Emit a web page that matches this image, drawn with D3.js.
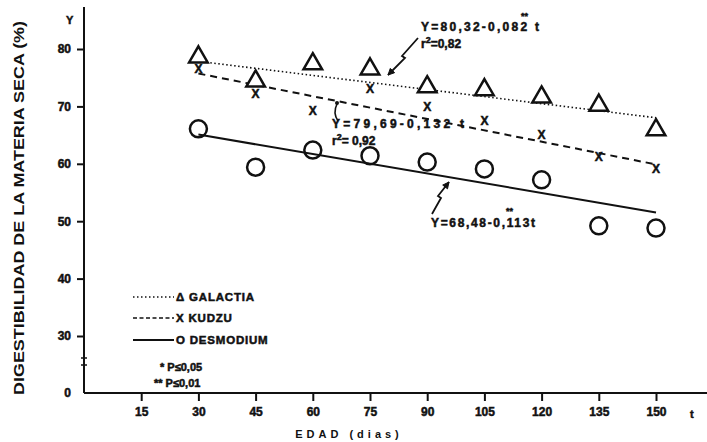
<!DOCTYPE html>
<html>
<head>
<meta charset="utf-8">
<script src="https://cdn.jsdelivr.net/npm/d3@7"></script>
<style>
  body { margin: 0; background: #fff; }
  svg text { font-family: "Liberation Sans", Arial, sans-serif; font-weight: bold; fill: #111; }
  svg text.heavy { stroke: #111; stroke-width: 0.5px; }
</style>
</head>
<body>
<svg id="chart"></svg>
<script>
const days = [30, 45, 60, 75, 90, 105, 120, 135, 150];
const galactia = [78.6, 74.4, 77.4, 76.5, 73.4, 72.9, 71.6, 70.2, 65.9];
const kudzu = [76.7, 72.3, 69.4, 73.2, 70.1, 67.6, 65.2, 61.4, 59.3];
const desmodium = [66.1, 59.4, 62.4, 61.4, 60.3, 59.1, 57.2, 49.2, 48.8];

const intercepts = [80.32, 79.69, 68.48];
const slopes = [-0.082, -0.132, -0.113];

const xTicks = [15, 30, 45, 60, 75, 90, 105, 120, 135, 150];
const yTicks = [0, 30, 40, 50, 60, 70, 80];

const width = 707, height = 442;
const svg = d3.select("#chart").attr("width", width).attr("height", height);

// y axis is broken between 0 and 30
const x = d3.scaleLinear().domain([0, 150]).range([84, 656]);
const y = d3.scaleLinear().domain([0, 30, 80]).range([393, 336, 49]);

const ink = "#111";

// axes
svg.append("line").attr("x1", x(0)).attr("x2", width).attr("y1", y(0)).attr("y2", y(0))
  .attr("stroke", ink).attr("stroke-width", 2);
svg.append("line").attr("x1", x(0)).attr("x2", x(0)).attr("y1", y(0)).attr("y2", 7)
  .attr("stroke", ink).attr("stroke-width", 2);

// break marks
[358, 365].forEach(v => {
  svg.append("line").attr("x1", x(0) - 3).attr("x2", x(0) + 3).attr("y1", v).attr("y2", v)
    .attr("stroke", ink).attr("stroke-width", 1.5);
});

const xAxis = d3.axisBottom(x).tickValues(xTicks).tickSize(8).tickPadding(6);
const gx = svg.append("g").attr("transform", `translate(0,${y(0)})`).call(xAxis);
gx.select(".domain").remove();
gx.selectAll("line").attr("stroke", ink).attr("stroke-width", 2);
gx.selectAll("text").attr("class", "heavy").style("font-size", "12px").attr("fill", ink);

const yAxis = d3.axisLeft(y).tickValues(yTicks).tickSize(7).tickPadding(6);
const gy = svg.append("g").attr("transform", `translate(${x(0)},0)`).call(yAxis);
gy.select(".domain").remove();
gy.selectAll("line").attr("stroke", ink).attr("stroke-width", 2);
gy.selectAll("text").attr("class", "heavy").style("font-size", "12px").attr("fill", ink);
gy.selectAll(".tick").filter(d => d === 0).select("line").remove();

svg.append("text").attr("class", "heavy").attr("x", 66).attr("y", 24).style("font-size", "11px").text("Y");
svg.append("text").attr("class", "heavy").attr("x", 690).attr("y", 418).style("font-size", "11px").text("t");

svg.append("text").attr("x", 349).attr("y", 438).attr("text-anchor", "middle")
  .style("font-size", "11px").style("letter-spacing", "4px").text("EDAD (dias)");

svg.append("text").attr("transform", "translate(24,208) rotate(-90)")
  .attr("text-anchor", "middle").style("font-size", "15px")
  .attr("textLength", 374).attr("lengthAdjust", "spacingAndGlyphs")
  .text("DIGESTIBILIDAD DE LA MATERIA SECA (%)");

// regression lines
const dashes = ["1.5,2.5", "7,5", null];
const widths = [1.6, 2, 2];
intercepts.forEach((a, i) => {
  const t0 = days[0], t1 = days[days.length - 1];
  svg.append("line")
    .attr("x1", x(t0)).attr("y1", y(a + slopes[i] * t0))
    .attr("x2", x(t1)).attr("y2", y(a + slopes[i] * t1))
    .attr("stroke", ink).attr("stroke-width", widths[i])
    .attr("stroke-dasharray", dashes[i]);
});

// markers
const tri = d3.symbol().type(d3.symbolTriangle).size(150);
svg.selectAll(".gal").data(days).join("path").attr("class", "gal")
  .attr("d", tri)
  .attr("transform", (d, i) => `translate(${x(d)},${y(galactia[i])})`)
  .attr("fill", "#fff").attr("stroke", ink).attr("stroke-width", 2.5);

svg.selectAll(".kud").data(days).join("text").attr("class", "kud heavy")
  .attr("x", d => x(d)).attr("y", (d, i) => y(kudzu[i]) + 5)
  .attr("text-anchor", "middle").style("font-size", "12px").text("X");

svg.selectAll(".des").data(days).join("circle").attr("class", "des")
  .attr("cx", d => x(d)).attr("cy", (d, i) => y(desmodium[i])).attr("r", 8.5)
  .attr("fill", "none").attr("stroke", ink).attr("stroke-width", 2.5);

// legend
const legend = [
  { label: "\u0394 GALACTIA", dash: dashes[0], w: 1.4, y: 297 },
  { label: "X  KUDZU", dash: "4,2.5", w: 1.6, y: 318 },
  { label: "O  DESMODIUM", dash: null, w: 2, y: 340 }
];
legend.forEach(l => {
  svg.append("line").attr("x1", 133).attr("x2", 174).attr("y1", l.y).attr("y2", l.y)
    .attr("stroke", ink).attr("stroke-width", l.w).attr("stroke-dasharray", l.dash);
  svg.append("text").attr("class", "heavy").attr("x", 176).attr("y", l.y + 4)
    .style("font-size", "11.5px").style("letter-spacing", "0.8px").text(l.label);
});
svg.append("text").attr("class", "heavy").attr("x", 160).attr("y", 371).style("font-size", "11px").text("*  P\u22640,05");
svg.append("text").attr("class", "heavy").attr("x", 154).attr("y", 387).style("font-size", "11px").text("**  P\u22640,01");

// annotations
function equation(tx, ty, s, len) {
  svg.append("text").attr("class", "heavy").attr("x", tx).attr("y", ty)
    .style("font-size", "12px").attr("textLength", len).attr("lengthAdjust", "spacing").text(s);
}
function rsq(tx, ty, s) {
  const t = svg.append("text").attr("class", "heavy").attr("x", tx).attr("y", ty).style("font-size", "12px");
  t.append("tspan").text("r");
  t.append("tspan").attr("dy", -5).style("font-size", "9px").text("2");
  t.append("tspan").attr("dy", 5).text(s);
}
equation(421, 31, "Y=80,32-0,082 t", 118);
rsq(421, 48, "=0,82");
svg.append("text").attr("class", "heavy").attr("x", 521).attr("y", 19).style("font-size", "9px").text("**");
equation(332, 128, "Y=79,69-0,132 t", 132);
rsq(332, 145, "= 0,92");
equation(431, 227, "Y=68,48-0,113t", 104);
svg.append("text").attr("class", "heavy").attr("x", 506).attr("y", 214).style("font-size", "9px").text("**");

// arrows
const arrowLine = d3.line();
function arrow(pts) {
  svg.append("path").attr("d", arrowLine(pts)).attr("fill", "none")
    .attr("stroke", ink).attr("stroke-width", 1.8);
  const [p, q] = pts.slice(-2);
  const ang = Math.atan2(q[1] - p[1], q[0] - p[0]);
  const h = 7;
  const a1 = [q[0] - h * Math.cos(ang - 0.45), q[1] - h * Math.sin(ang - 0.45)];
  const a2 = [q[0] - h * Math.cos(ang + 0.45), q[1] - h * Math.sin(ang + 0.45)];
  svg.append("path").attr("d", arrowLine([a1, q, a2]) + "Z").attr("fill", ink).attr("stroke", ink);
}
arrow([[418, 38], [402, 56], [405, 58], [388, 75]]);
arrow([[432, 214], [441, 198], [438, 196], [449, 182]]);
svg.append("path").attr("d", "M338,121 C334,115 334,110 337,104").attr("fill", "none")
  .attr("stroke", ink).attr("stroke-width", 1.6);
svg.append("circle").attr("cx", 337).attr("cy", 103).attr("r", 2).attr("fill", ink);
</script>
</body>
</html>
